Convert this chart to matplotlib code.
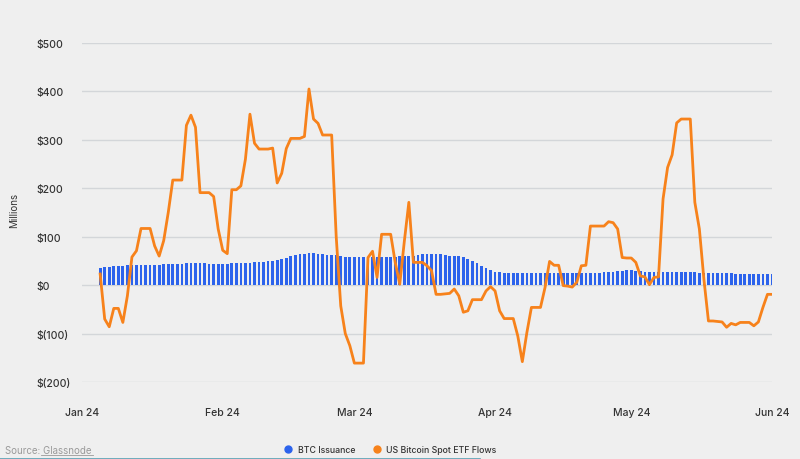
import datetime as dt
import matplotlib
matplotlib.use("Agg")
from matplotlib import pyplot as plt
import matplotlib.dates as mdates
from matplotlib.lines import Line2D
from matplotlib.ticker import FuncFormatter

# daily series, Jan 5 2024 -> Jun 1 2024
start = dt.date(2024, 1, 5)
btc_issuance = [
    36, 37, 38, 39, 40, 40, 41, 41, 41, 41, 41, 42, 42, 42, 43, 43, 43, 43, 44, 45,
    45, 45, 45, 45, 44, 44, 44, 44, 44, 45, 45, 46, 46, 46, 47, 48, 48, 49, 50, 52,
    55, 56, 60, 62, 64, 65, 66, 66, 65, 64, 63, 63, 62, 60, 58, 58, 58, 58, 58, 59,
    59, 59, 59, 59, 59, 59, 60, 60, 61, 61, 63, 64, 64, 64, 64, 64, 62, 61, 61, 60,
    58, 53, 49, 45, 40, 36, 32, 28, 27, 26, 26, 26, 26, 26, 26, 26, 26, 26, 26, 26,
    26, 26, 26, 26, 26, 26, 26, 26, 26, 26, 26, 27, 27, 28, 29, 30, 31, 31, 30, 29,
    28, 28, 28, 28, 28, 28, 28, 28, 28, 28, 28, 27, 26, 26, 26, 26, 26, 26, 26, 26,
    24, 24, 24, 24, 22, 22, 22, 22, 22,
]
etf_flows = [
    23, -70, -86, -48, -48, -77, -22, 58, 71, 117, 117, 117, 81, 60, 92, 150, 217, 217, 217, 330,
    351, 326, 191, 191, 191, 183, 116, 72, 65, 197, 197, 205, 260, 353, 293, 281, 281, 281, 283, 211,
    231, 282, 303, 303, 303, 307, 405, 343, 334, 310, 310, 310, 100, -43, -100, -125, -161, -161, -161, 57,
    70, 16, 105, 105, 105, 47, 2, 90, 171, 47, 47, 47, 40, 30, -19, -19, -18, -17, -8, -22,
    -56, -53, -30, -30, -30, -12, -3, -12, -53, -69, -69, -69, -105, -158, -98, -46, -46, -46, -5, 49,
    41, 41, -1, -2, -4, 6, 40, 41, 122, 122, 122, 122, 131, 129, 116, 57, 56, 56, 47, 19,
    17, 1, 16, 17, 178, 243, 269, 335, 343, 343, 343, 171, 116, 12, -74, -74, -75, -76, -87, -79,
    -82, -77, -77, -77, -84, -76, -46, -19, -19,
]
dates = [start + dt.timedelta(days=i) for i in range(len(btc_issuance))]

BG = "#efefef"
BLUE = "#2c63ec"
ORANGE = "#f7821b"
TXT = "#333333"

plt.rcParams['font.family'] = ['Inter', 'DejaVu Sans']

fig = plt.figure(figsize=(8, 4.6), dpi=100, facecolor=BG)
ax = fig.add_axes([82 / 800, 1 - 383 / 460, 690 / 800, 339 / 460], facecolor=BG)

ax.bar(dates, btc_issuance, width=0.6, color=BLUE, zorder=2)
ax.plot(dates, etf_flows, color=ORANGE, lw=2.0, zorder=3)

ax.set_xlim(dt.date(2024, 1, 1), dt.date(2024, 6, 1))
ax.set_ylim(-200, 500)
ax.set_yticks([-200, -100, 0, 100, 200, 300, 400, 500])

def money(v, pos):
    v = int(round(v))
    return f"$({abs(v)})" if v < 0 else f"${v}"

ax.yaxis.set_major_formatter(FuncFormatter(money))
ax.xaxis.set_major_locator(mdates.MonthLocator())
ax.xaxis.set_major_formatter(mdates.DateFormatter("%b %y"))

ax.grid(axis='y', color="#d3d6d9", lw=1.0, zorder=0)
ax.set_axisbelow(True)
for s in ax.spines.values():
    s.set_visible(False)
ax.tick_params(axis='both', length=0, labelsize=7.5, colors=TXT)
ax.tick_params(axis='x', pad=18)
ax.tick_params(axis='y', pad=33)
for lbl in ax.get_yticklabels():
    lbl.set_horizontalalignment('left')
for lbl in ax.get_xticklabels() + ax.get_yticklabels():
    lbl.set_fontweight('medium')

fig.text(14 / 800, 1 - 210 / 460, "Millions", rotation=90, ha='center', va='center',
         fontsize=7, color=TXT)

# legend
handles = [
    Line2D([], [], ls='none', marker='o', ms=5, color=BLUE, label="BTC Issuance"),
    Line2D([], [], ls='none', marker='o', ms=5, color=ORANGE, label="US Bitcoin Spot ETF Flows"),
]
leg = fig.legend(handles=handles, loc='center', bbox_to_anchor=(388 / 800, 1 - 451 / 460),
                 ncol=2, frameon=False, fontsize=6.3, handletextpad=0.1, columnspacing=1.4,
                 prop={'weight': 'medium', 'size': 6.3})
for t in leg.get_texts():
    t.set_color(TXT)

# source note
fig.text(5 / 800, 1 - 451 / 460, "Source: Glassnode", ha='left', va='center',
         fontsize=7, color="#9a9a9a")
fig.add_artist(Line2D([41 / 800, 93 / 800], [1 - 456 / 460] * 2, color="#9a9a9a", lw=0.6))
fig.add_artist(Line2D([0, 0.6], [0.5 / 460] * 2, color="#5aa0b4", lw=1.2))

fig.savefig("out.png", dpi=100, facecolor=BG)
